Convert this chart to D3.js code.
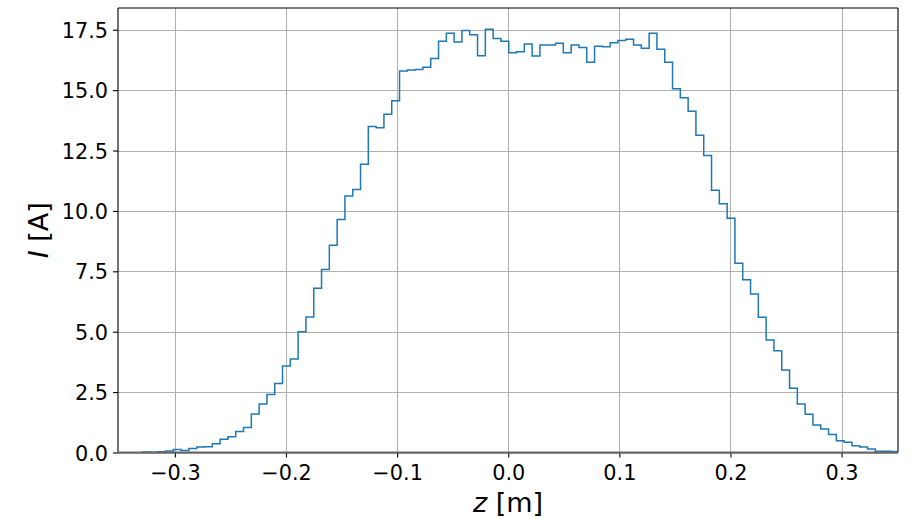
<!DOCTYPE html>
<html>
<head>
<meta charset="utf-8">
<script src="https://cdn.jsdelivr.net/npm/d3@7"></script>
<style>
  html, body { margin: 0; padding: 0; background: #fff; }
  svg { display: block; }
  text { font-family: "DejaVu Sans", sans-serif; fill: #000; }
</style>
</head>
<body>
<svg id="chart" width="912" height="518"></svg>
<script>
// Longitudinal current profile: histogram of I [A] over z [m]
const binStart = -0.32948;   // left edge of the first bin [m]
const binWidth = 0.00702;    // bin width [m]
const current = [
  0.02, 0.01, 0.03, 0.06, 0.12, 0.08, 0.17, 0.23, 0.24, 0.36,
  0.55, 0.65, 0.87, 1.03, 1.59, 2.01, 2.40, 2.86, 3.58, 3.87,
  5.00, 5.61, 6.80, 7.58, 8.58, 9.65, 10.62, 10.89, 11.93, 13.49,
  13.44, 14.00, 14.56, 15.79, 15.83, 15.85, 15.95, 16.31, 17.02, 17.35,
  16.99, 17.47, 17.29, 16.42, 17.52, 17.14, 17.02, 16.55, 16.59, 16.91,
  16.41, 16.87, 16.87, 16.94, 16.55, 16.87, 16.77, 16.15, 16.82, 16.80,
  16.96, 17.05, 17.11, 16.87, 16.73, 17.35, 16.69, 16.15, 15.06, 14.69,
  14.13, 13.13, 12.29, 10.86, 10.30, 9.70, 7.83, 7.15, 6.56, 5.60,
  4.66, 4.21, 3.41, 2.66, 2.01, 1.58, 1.14, 0.97, 0.75, 0.49,
  0.42, 0.28, 0.23, 0.14, 0.05, 0.05, 0.04, 0.03
];
const xTicks = [-0.3, -0.2, -0.1, 0.0, 0.1, 0.2, 0.3];
const yTicks = [0, 2.5, 5, 7.5, 10, 12.5, 15, 17.5];
const xDomain = [-0.3512, 0.3508];
const yDomain = [0, 18.4];

const svg = d3.select("#chart");
const plot = { left: 118, right: 898, top: 8, bottom: 452.5 };

const x = d3.scaleLinear().domain(xDomain).range([plot.left, plot.right]);
const y = d3.scaleLinear().domain(yDomain).range([plot.bottom, plot.top]);

// clip path for the plotting area
svg.append("defs").append("clipPath").attr("id", "plotclip")
  .append("rect")
  .attr("x", plot.left).attr("y", plot.top)
  .attr("width", plot.right - plot.left).attr("height", plot.bottom - plot.top);

// grid
const grid = svg.append("g").attr("stroke", "#b0b0b0").attr("stroke-width", 1.1);
grid.selectAll("line.vx").data(xTicks).join("line")
  .attr("x1", d => Math.round(x(d)) + 0.5).attr("x2", d => Math.round(x(d)) + 0.5)
  .attr("y1", plot.top).attr("y2", plot.bottom);
grid.selectAll("line.hy").data(yTicks).join("line")
  .attr("x1", plot.left).attr("x2", plot.right)
  .attr("y1", d => Math.round(y(d)) + 0.5).attr("y2", d => Math.round(y(d)) + 0.5);

// step histogram
const pts = current.map((v, i) => [binStart + i * binWidth, v]);
pts.push([binStart + current.length * binWidth, current[current.length - 1]]);
const line = d3.line()
  .x(d => x(d[0]))
  .y(d => y(d[1]))
  .curve(d3.curveStepAfter);
svg.append("path")
  .attr("clip-path", "url(#plotclip)")
  .attr("d", line(pts))
  .attr("fill", "none")
  .attr("stroke", "#1f77b4")
  .attr("stroke-width", 1.5);

// axes (ticks + labels)
const fmt = d3.format(".1f");
const xAxis = d3.axisBottom(x).tickValues(xTicks).tickFormat(fmt).tickSize(5).tickPadding(6);
const yAxis = d3.axisLeft(y).tickValues(yTicks).tickFormat(fmt).tickSize(5).tickPadding(5);

const gx = svg.append("g").attr("transform", `translate(0,${plot.bottom})`).call(xAxis);
const gy = svg.append("g").attr("transform", `translate(${plot.left},0)`).call(yAxis);
[gx, gy].forEach(g => {
  g.select(".domain").remove();
  g.selectAll(".tick line").attr("stroke", "#000").attr("stroke-width", 1.1);
  g.selectAll(".tick text")
    .style("font-family", "'DejaVu Sans', sans-serif")
    .style("font-size", "20.8px")
    .attr("fill", "#000");
});
gx.selectAll(".tick text").attr("dy", null).attr("y", 27.5);
gy.selectAll(".tick text").attr("dy", "0.36em");

// spines
const sp = svg.append("g").attr("fill", "none");
sp.append("line").attr("x1", plot.left).attr("x2", plot.right).attr("y1", plot.top).attr("y2", plot.top)
  .attr("stroke", "#000").attr("stroke-width", 1.1);
sp.append("line").attr("x1", plot.left).attr("x2", plot.left).attr("y1", plot.top).attr("y2", plot.bottom)
  .attr("stroke", "#000").attr("stroke-width", 1.1);
sp.append("line").attr("x1", plot.right).attr("x2", plot.right).attr("y1", plot.top).attr("y2", plot.bottom)
  .attr("stroke", "#000").attr("stroke-width", 1.1);
sp.append("line").attr("x1", plot.left).attr("x2", plot.right).attr("y1", plot.bottom).attr("y2", plot.bottom)
  .attr("stroke", "#666").attr("stroke-width", 2);

// axis titles
const xl = svg.append("text")
  .attr("x", (plot.left + plot.right) / 2)
  .attr("y", 511.5)
  .attr("text-anchor", "middle")
  .style("font-size", "27px");
xl.append("tspan").style("font-style", "italic").text("z");
xl.append("tspan").text(" [m]");

const yl = svg.append("text")
  .attr("transform", `translate(48,${(plot.top + plot.bottom) / 2}) rotate(-90)`)
  .attr("text-anchor", "middle")
  .style("font-size", "27px");
yl.append("tspan").style("font-style", "italic").text("I");
yl.append("tspan").text(" [A]");
</script>
</body>
</html>
